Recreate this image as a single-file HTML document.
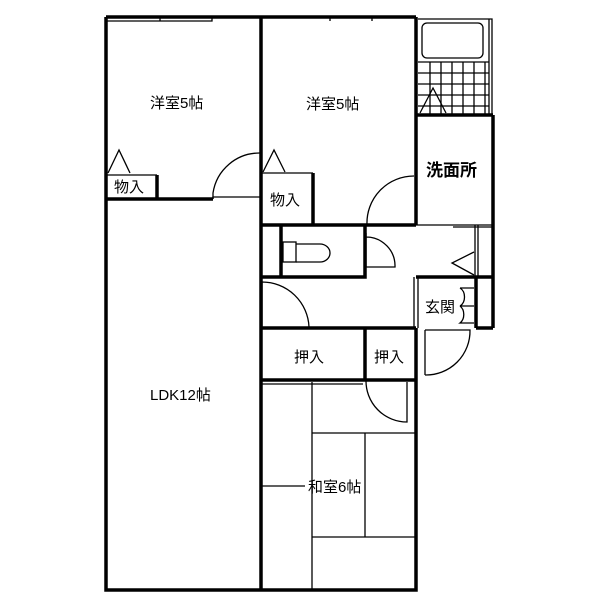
<!DOCTYPE html><html><head><style>body{margin:0;background:#fff}svg{display:block}text{font-family:"Liberation Sans","Noto Sans CJK JP",sans-serif;font-size:15px;fill:#000}</style></head><body>
<svg width="600" height="600" viewBox="0 0 600 600" xmlns="http://www.w3.org/2000/svg">
<g fill="none" stroke="#000">
<g stroke-width="3.5">
<path d="M106 17V590H416V328"/>
<path d="M106 17H416"/>
<path d="M261 17V590"/>
<path d="M416 17V225"/>
<path d="M106 199H213M157 175V199"/>
<path d="M261 225H416M313 173V225"/>
<path d="M281 225V277M261 277H365V225"/>
<path d="M261 328H416"/>
<path d="M365 328V380M261 380H416"/>
<path d="M416 277H493M476 277V328M476 328H493M493 115V328M416 115H493"/>
</g>
<g stroke-width="1.3">
<path d="M106 175H157M261 173H313"/>
<path d="M160 17V21M212 17V21H106M330 17V21M372 17V21"/>
<path d="M213 199V197H261"/>
<path d="M416 225H493M453 227H493"/>
<path d="M475 225V277M478 225V277M414 277V328M418 277V328"/>
<path d="M213 199V193A47 47 0 0 1 260 153"/>
<path d="M367 225A47 47 0 0 1 414 176"/>
<path d="M366 233V267M366 237A29 29 0 0 1 395 267H366"/>
<path d="M262 282V327M262 282A47 47 0 0 1 309 327"/>
<path d="M366 380A41 41 0 0 0 407 422V382"/>
<path d="M425 330V375M425 375A44 44 0 0 0 470 330H425"/>
<path d="M460 288H474M460 288A8 10 0 0 1 460 306M460 306H474M460 306A8 10 0 0 1 460 323H474"/>
<path d="M108 173L119 150L130 173M263 172L274 150L285 172M420 113L433 88L446 113"/>
<path d="M474 252L452 263L474 275"/>
<rect x="283" y="242" width="13" height="20"/>
<path d="M296 244H320A10 9 0 0 1 320 262H296"/>
<rect x="422" y="23" width="61" height="35" rx="5"/>
<path d="M418 19H492V115M489 19V115"/>
<path d="M418 62H489M418 73H489M418 84H489M418 95H489M418 106H489"/>
<path d="M430 62V115M441 62V115M452 62V115M463 62V115M474 62V115M485 62V115"/>
<path d="M312 382V590M312 433H416M365 433V537M312 537H416M261 486H305"/>
<path d="M262 384H363"/>
</g>
</g>
<text x="150" y="108">洋室5帖</text>
<text x="306" y="109">洋室5帖</text>
<text x="114" y="192">物入</text>
<text x="270" y="205">物入</text>
<text x="426" y="176" style="font-size:17px;font-weight:bold">洗面所</text>
<text x="425" y="312">玄関</text>
<text x="294" y="362">押入</text>
<text x="374" y="362">押入</text>
<text x="150" y="400">LDK12帖</text>
<text x="308" y="492">和室6帖</text>
</svg></body></html>
